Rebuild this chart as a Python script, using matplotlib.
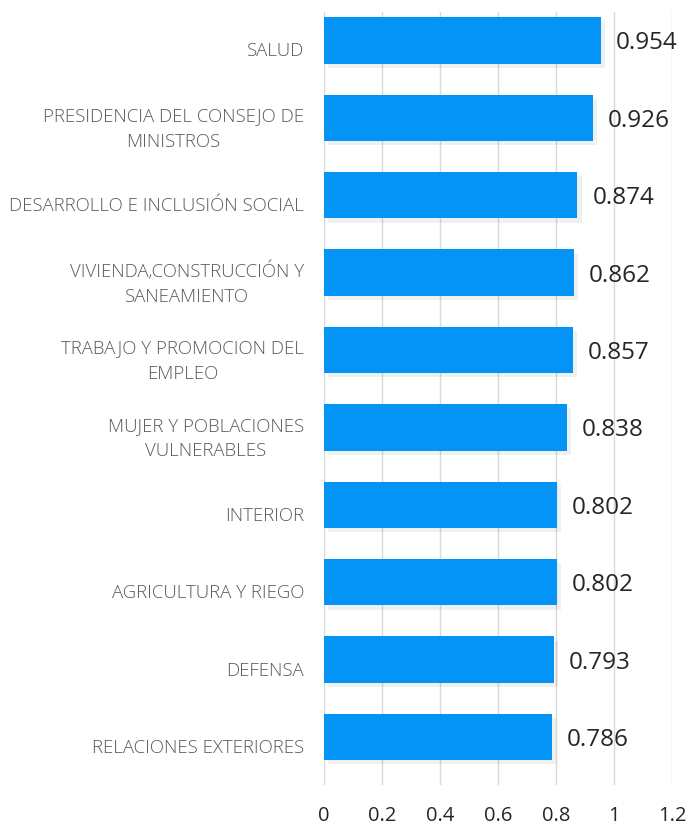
import matplotlib
matplotlib.use("Agg")
import matplotlib.pyplot as plt
import matplotlib.patheffects as pe

# data, top to bottom
sectores = [
    "SALUD",
    "PRESIDENCIA DEL CONSEJO DE\nMINISTROS",
    "DESARROLLO E INCLUSIÓN SOCIAL",
    "VIVIENDA,CONSTRUCCIÓN Y\nSANEAMIENTO",
    "TRABAJO Y PROMOCION DEL\nEMPLEO",
    "MUJER Y POBLACIONES\nVULNERABLES",
    "INTERIOR",
    "AGRICULTURA Y RIEGO",
    "DEFENSA",
    "RELACIONES EXTERIORES",
]
valores = [0.954, 0.926, 0.874, 0.862, 0.857, 0.838, 0.802, 0.802, 0.793, 0.786]
ticks = [0, 0.2, 0.4, 0.6, 0.8, 1.0, 1.2]
tick_labels = ["0", "0.2", "0.4", "0.6", "0.8", "1", "1.2"]

plt.rcParams['font.family'] = ['Open Sans', 'DejaVu Sans']

fig = plt.figure(figsize=(6.89, 8.26), dpi=100)
ax = fig.add_axes([324/689, 1 - 785/826, 348/689, 773/826])

pos = list(range(len(sectores)))
bars = ax.barh(pos, valores, height=0.6, color="#0394F5", zorder=3)
for b in bars:
    b.set_path_effects([pe.SimplePatchShadow(offset=(3, -3), shadow_rgbFace="#000000", alpha=0.06),
                        pe.Normal()])

for p, v in zip(pos, valores):
    ax.annotate(f"{v:.3f}", xy=(v, p), xytext=(15, -3), textcoords="offset pixels",
                va="center", ha="left", fontsize=17.5, color="#262626")

# category labels, a bit below the bar centre like the original
for p, name in zip(pos, sectores):
    ax.annotate(name, xy=(0, p), xycoords=ax.get_yaxis_transform(),
                xytext=(-20, -11), textcoords="offset pixels",
                ha="right", va="center", multialignment="center",
                fontsize=13.4, color="#595959", linespacing=1.55, fontweight="light")

ax.set_xlim(0, 1.2)
ax.set_ylim(9.62, -0.368)
ax.set_xticks(ticks)
ax.set_xticklabels(tick_labels, fontsize=14.5, color="#262626")
ax.set_yticks([])
ax.tick_params(axis="both", length=0)
ax.tick_params(axis="x", pad=15)
ax.grid(axis="x", color="#d9d9d9", linewidth=1, zorder=0)
for s in ax.spines.values():
    s.set_visible(False)

fig.savefig("out.png", dpi=100)
